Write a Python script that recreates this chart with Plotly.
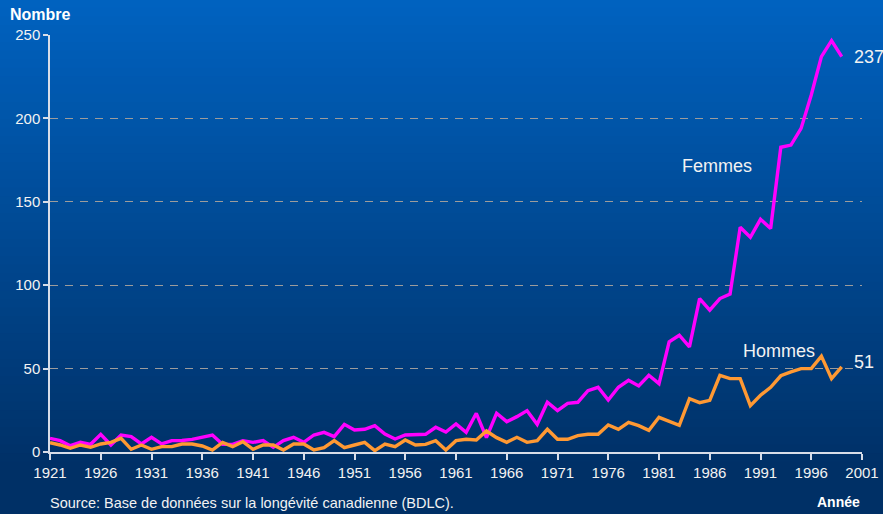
import plotly.graph_objects as go

years = list(range(1921, 2000))

femmes = [8.2, 6.8, 3.8, 5.8, 4.6, 10.6, 4.2, 10.2, 9.2, 4.8,
          8.8, 4.8, 6.8, 6.9, 7.6, 8.8, 10.2, 4.6, 4.6, 6.8,
          5.8, 6.8, 2.8, 6.8, 8.8, 5.8, 10.2, 11.8, 9.2, 16.6,
          13.2, 13.6, 15.8, 10.8, 7.8, 10.2, 10.6, 10.6, 14.8, 12.0,
          16.8, 11.8, 23.2, 8.6, 23.2, 18.2, 21.2, 24.8, 16.6, 29.8,
          24.8, 29.2, 29.8, 36.8, 38.8, 31.2, 38.8, 43.0, 39.6, 46.0,
          41.0, 66.0, 70.0, 63.0, 92.0, 85.0, 92.0, 94.7, 134.7, 128.7,
          139.5, 134.0, 182.7, 184.0, 194.0, 214.0, 237.0, 246.6, 237.0]

hommes = [5.6, 4.2, 2.2, 4.2, 2.8, 4.8, 5.8, 8.2, 1.6, 4.2,
          1.6, 3.2, 3.2, 4.8, 4.8, 3.6, 1.2, 5.8, 3.2, 6.2,
          1.6, 4.2, 4.2, 1.2, 4.8, 4.8, 1.2, 2.6, 6.8, 2.6,
          4.2, 5.8, 0.8, 4.8, 3.2, 7.2, 4.2, 4.6, 6.8, 1.2,
          6.8, 7.6, 7.2, 12.6, 8.6, 5.8, 8.8, 5.8, 6.8, 13.6,
          7.6, 7.6, 9.8, 10.6, 10.6, 16.2, 13.6, 17.8, 15.8, 13.0,
          20.8, 18.2, 16.0, 32.0, 29.6, 31.0, 46.0, 44.0, 44.0, 27.8,
          34.0, 38.8, 45.7, 48.0, 50.0, 50.0, 57.5, 44.0, 51.0]

x_ticks = list(range(1921, 2002, 5))
y_ticks = [0, 50, 100, 150, 200, 250]

FONT = "Liberation Sans, Arial, sans-serif"
W, H = 883, 514
L, R, T, B = 50, 21, 35, 62
plot_h = H - T - B
plot_w = W - L - R

fig = go.Figure()
fig.add_trace(go.Scatter(x=years, y=femmes, mode="lines", name="Femmes",
                         line=dict(color="#ff00ff", width=3.4), cliponaxis=False))
fig.add_trace(go.Scatter(x=years, y=hommes, mode="lines", name="Hommes",
                         line=dict(color="#ff9933", width=3.4), cliponaxis=False))

# vertical gradient background
shapes = []
n = 60
top_c = (0, 98, 192)
bot_c = (0, 48, 102)
for i in range(n):
    p0 = H * i / n
    p1 = H * (i + 1) / n
    t = min(1.0, ((p0 + p1) / 2) / 470.0)
    c = tuple(int(round(top_c[k] + (bot_c[k] - top_c[k]) * t)) for k in range(3))
    shapes.append(dict(type="rect", xref="paper", yref="paper", layer="below",
                       x0=-L / plot_w - 0.01, x1=1 + R / plot_w + 0.01,
                       y0=(H - B - p1) / plot_h - 0.002,
                       y1=(H - B - p0) / plot_h + 0.002,
                       line=dict(width=0), fillcolor="rgb(%d,%d,%d)" % c))

fig.update_layout(
    width=W, height=H, autosize=False,
    margin=dict(l=L, r=R, t=T, b=B),
    paper_bgcolor="rgb(0,48,102)",
    plot_bgcolor="rgba(0,0,0,0)",
    showlegend=False,
    shapes=shapes,
    font=dict(family=FONT, color="white"),
    xaxis=dict(range=[1921, 2001], tickvals=x_ticks, ticktext=[str(v) for v in x_ticks],
               showgrid=False, zeroline=False, showline=True, linecolor="#d8dde8",
               linewidth=1.5, ticks="outside", ticklen=6, tickwidth=1.5, tickcolor="#d8dde8",
               automargin=False,
               tickfont=dict(size=15, color="#f2f2f2", family=FONT)),
    yaxis=dict(range=[0, 250], tickvals=y_ticks, showgrid=True, gridcolor="#9c9c9c",
               griddash="8px,7px", gridwidth=1, zeroline=False, showline=True,
               linecolor="#d8dde8", linewidth=1.5, ticks="outside", ticklen=5,
               tickwidth=1.5, tickcolor="#d8dde8", automargin=False,
               tickfont=dict(size=15, color="#f2f2f2", family=FONT)),
    annotations=[
        dict(x=1986.7, y=171.5, xref="x", yref="y", text="Femmes", showarrow=False,
             font=dict(size=18, color="#f2f2f2", family=FONT), xanchor="center", yanchor="middle"),
        dict(x=1992.8, y=60.7, xref="x", yref="y", text="Hommes", showarrow=False,
             font=dict(size=18, color="#f2f2f2", family=FONT), xanchor="center", yanchor="middle"),
        dict(x=2000.05, y=236.6, xref="x", yref="y", text="237", showarrow=False,
             font=dict(size=18, color="#f2f2f2", family=FONT), xanchor="left", yanchor="middle"),
        dict(x=2000.0, y=54.1, xref="x", yref="y", text="51", showarrow=False,
             font=dict(size=18, color="#f2f2f2", family=FONT), xanchor="left", yanchor="middle"),
        dict(x=-42 / plot_w, y=(H - B - 14) / plot_h, xref="paper", yref="paper",
             text="<b>Nombre</b>", showarrow=False, xanchor="left", yanchor="middle",
             font=dict(size=16, color="white", family=FONT)),
        dict(x=-2 / plot_w, y=(H - B - 503) / plot_h, xref="paper", yref="paper",
             text="Source: Base de données sur la longévité canadienne (BDLC).",
             showarrow=False, xanchor="left", yanchor="middle",
             font=dict(size=14.5, color="#f2f2f2", family=FONT)),
        dict(x=1, y=(H - B - 502) / plot_h, xref="paper", yref="paper",
             text="<b>Année</b>", showarrow=False, xanchor="right", yanchor="middle",
             font=dict(size=14, color="white", family=FONT)),
    ],
)

fig.write_html(
    "out.html",
    config={"displayModeBar": False, "responsive": False},
    post_script="document.body.style.margin='0px';document.body.style.overflow='hidden';",
)
